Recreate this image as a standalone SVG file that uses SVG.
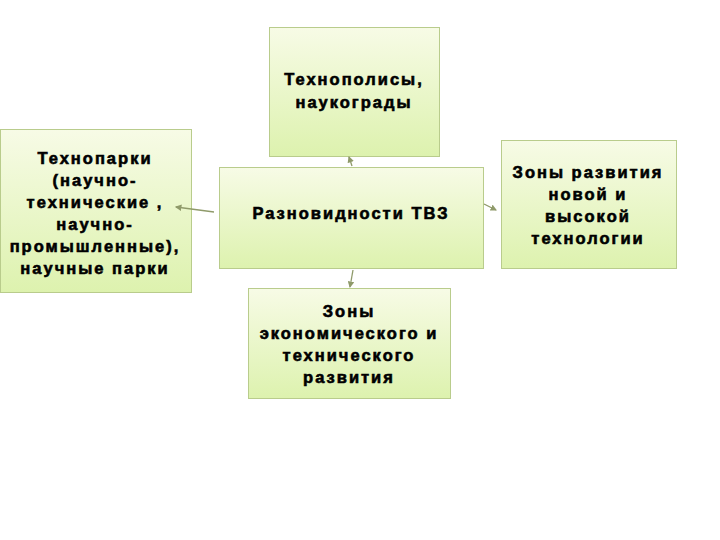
<svg xmlns="http://www.w3.org/2000/svg" width="720" height="540" viewBox="0 0 720 540">
<defs>
<linearGradient id="g" x1="0" y1="0" x2="0" y2="1">
<stop offset="0" stop-color="#f7fbe6"/>
<stop offset="1" stop-color="#ddf2ae"/>
</linearGradient>
<marker id="ar" viewBox="0 0 6 6" refX="5" refY="3" markerWidth="5" markerHeight="5" orient="auto">
<path d="M0,0 L6,3 L0,6 z" fill="#8f9a6a"/>
</marker>
<style>
.box{fill:url(#g);stroke:#b9cc8c;stroke-width:1}
.t{font-family:"Liberation Sans",Arial,sans-serif;font-weight:bold;font-size:16.5px;letter-spacing:2px;fill:#000;stroke:#000;stroke-width:0.6;text-anchor:middle}
.c{stroke:#8f9a6a;stroke-width:1.3;fill:none;marker-end:url(#ar)}
</style>
</defs>
<rect width="720" height="540" fill="#fff"/>
<g id="n-top">
<rect class="box" x="269.5" y="27.5" width="170" height="129"/>
<text class="t" x="354" y="85">Технополисы,</text>
<text class="t" x="354" y="108">наукограды</text>
</g>
<g id="n-left">
<rect class="box" x="0.5" y="129.5" width="191" height="163"/>
<text class="t" x="95" y="164">Технопарки</text>
<text class="t" x="95" y="186">(научно-</text>
<text class="t" x="95" y="208">технические ,</text>
<text class="t" x="95" y="230">научно-</text>
<text class="t" x="95" y="252">промышленные),</text>
<text class="t" x="95" y="274">научные парки</text>
</g>
<g id="n-center">
<rect class="box" x="219.5" y="167.5" width="264" height="101"/>
<text class="t" x="351" y="219">Разновидности ТВЗ</text>
</g>
<g id="n-right">
<rect class="box" x="501.5" y="140.5" width="175" height="128"/>
<text class="t" x="588" y="178">Зоны развития</text>
<text class="t" x="588" y="200">новой и</text>
<text class="t" x="588" y="222">высокой</text>
<text class="t" x="588" y="244">технологии</text>
</g>
<g id="n-bottom">
<rect class="box" x="248.5" y="288.5" width="202" height="110"/>
<text class="t" x="349" y="317">Зоны</text>
<text class="t" x="349" y="339">экономического и</text>
<text class="t" x="349" y="361">технического</text>
<text class="t" x="349" y="383">развития</text>
</g>
<g id="connectors">
<path class="c" d="M352,166 L349,157"/>
<path class="c" d="M214,212 L176,207"/>
<path class="c" d="M484,204 L496,210"/>
<path class="c" d="M353,270 L350,287"/>
</g>
</svg>
